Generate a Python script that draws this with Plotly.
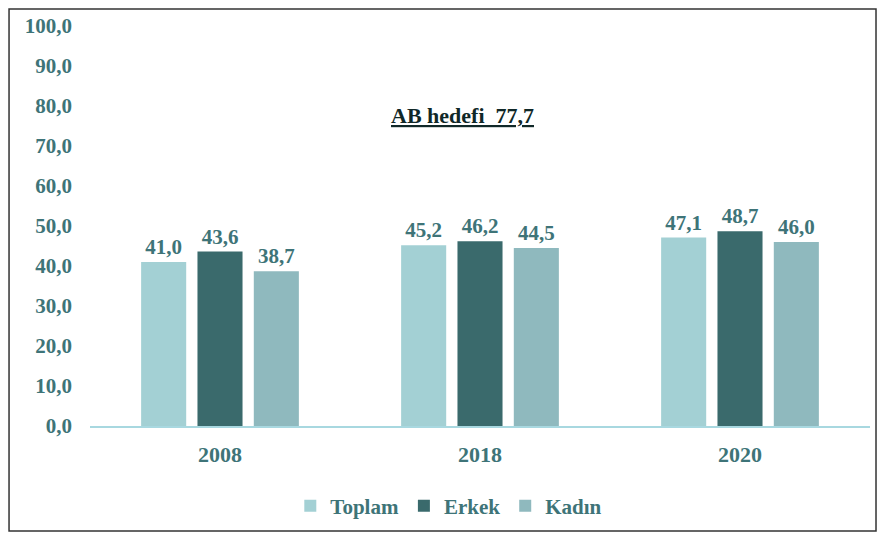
"""Employment rate bars by year and gender, with the EU target annotation."""

import plotly.graph_objects as go

years = ["2008", "2018", "2020"]
toplam = [41.0, 45.2, 47.1]
erkek = [43.6, 46.2, 48.7]
kadin = [38.7, 44.5, 46.0]

series = [
    ("Toplam", toplam, "#a3d0d4"),
    ("Erkek", erkek, "#3a6a6c"),
    ("Kadın", kadin, "#8fb9be"),
]

text_color = "#3e7478"
font_family = "Liberation Serif"


def bold(size, color=text_color):
    return dict(family=font_family, size=size, color=color, weight="bold")


fig = go.Figure()
for name, values, color in series:
    fig.add_trace(go.Bar(
        x=years,
        y=values,
        name=name,
        marker=dict(color=color, line=dict(width=0)),
        texttemplate="%{y:.1f}",
        textposition="outside",
        textfont=bold(21),
        cliponaxis=False,
    ))

fig.add_annotation(
    x=0.478, xref="paper", y=77.7, yref="y",
    text="<u>AB hedefi  77,7</u>",
    showarrow=False,
    font=bold(22, "#102828"),
)

# outer frame around the whole chart
fig.add_shape(
    type="rect", xref="paper", yref="paper",
    x0=-0.1038, x1=1.0077, y0=-0.2625, y1=1.0425,
    line=dict(color="#333333", width=1.5),
)

# the page body adds 8px margins, so the figure is kept inside the window
fig.update_layout(
    width=869,
    height=524,
    margin=dict(l=82, r=7, t=18, b=106, autoexpand=False),
    plot_bgcolor="white",
    paper_bgcolor="white",
    separators=",.",
    barmode="group",
    bargap=0.35,
    bargroupgap=0.2,
    font=bold(20),
    showlegend=True,
    legend=dict(
        orientation="h",
        x=0.46, xanchor="center",
        y=-0.2, yanchor="middle",
        font=bold(21),
        itemwidth=30,
    ),
    xaxis=dict(
        showgrid=False,
        showline=True,
        linecolor="#a8d8e0",
        linewidth=1.5,
        ticks="",
        ticklabelstandoff=8,
        tickfont=bold(22),
    ),
    yaxis=dict(
        range=[0, 100],
        dtick=10,
        tickformat=".1f",
        showgrid=False,
        zeroline=False,
        showline=False,
        ticks="",
        ticklabelstandoff=17,
        tickfont=bold(21),
    ),
)

fig.write_html("out.html")
